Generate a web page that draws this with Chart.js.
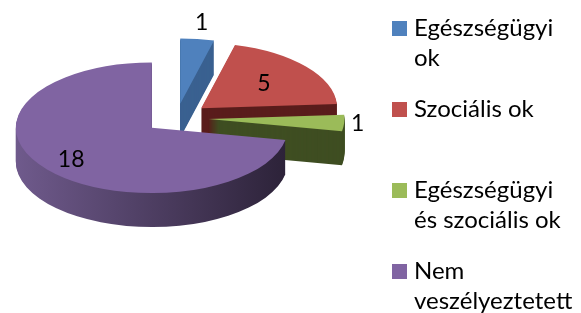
<!DOCTYPE html>
<html>
<head>
<meta charset="utf-8">
<script src="https://cdn.jsdelivr.net/npm/chart.js@4.4.1/dist/chart.umd.min.js"></script>
<style>
  html, body { margin: 0; padding: 0; background: #fff; }
  #wrap { position: relative; width: 581px; height: 313px; overflow: hidden; }
  #pie { position: absolute; left: 0; top: 0; }
  #legend { position: absolute; left: 392px; top: 12px; font-family: Lato, sans-serif; font-size: 24px; line-height: 30px; color: #000; }
  .item { position: relative; height: 81px; padding-left: 22px; white-space: nowrap; }
  .box { position: absolute; left: 0; top: 9px; width: 15px; height: 15px; }
</style>
</head>
<body>
<div id="wrap">
  <canvas id="pie" width="581" height="313"></canvas>
  <div id="legend"></div>
</div>
<script>
const categories = [['Egészségügyi', 'ok'], ['Szociális ok'], ['Egészségügyi', 'és szociális ok'], ['Nem', 'veszélyeztetett']];
const values = [1, 5, 1, 18];
const topColors = ['#4f81bd', '#c0504d', '#9bbb59', '#8064a2'];
const sideColors = ['#3a6190', '#5a1d1c', '#3f4e22', ['#6f5a8c', '#2c2238']];
const explode = [30, 32, 32, 32];
const labelPos = [1.25, 0.6, 1.1, 0.77];

// fake 3d: squash the pie and stack darker copies under it
const tilt = 0.48;
const depth = 34;
const pieY = 118;

function project(ctx, chart, shiftY) {
    const cy = (chart.chartArea.top + chart.chartArea.bottom) / 2;
    ctx.translate(0, pieY + shiftY - tilt * cy);
    ctx.scale(1, tilt);
}

const pie3d = {
    id: 'pie3d',
    beforeDatasetsDraw(chart) {
        const ctx = chart.ctx;
        const arcs = chart.getDatasetMeta(0).data;

        arcs.forEach(function(arc, i) {
            const mid = (arc.startAngle + arc.endAngle) / 2;
            arc.$orig = [arc.x, arc.y];
            arc.x += Math.cos(mid) * explode[i];
            arc.y += Math.sin(mid) * explode[i];
        });

        arcs.forEach(function(arc, i) {
            let fill = sideColors[i];
            if (Array.isArray(fill)) {
                const g = ctx.createLinearGradient(arc.x - arc.outerRadius, 0, arc.x + arc.outerRadius, 0);
                g.addColorStop(0, fill[0]);
                g.addColorStop(1, fill[1]);
                fill = g;
            }
            for (let d = depth; d > 0; d--) {
                ctx.save();
                project(ctx, chart, d);
                ctx.beginPath();
                ctx.moveTo(arc.x, arc.y);
                ctx.arc(arc.x, arc.y, arc.outerRadius, arc.startAngle, arc.endAngle);
                ctx.closePath();
                ctx.fillStyle = fill;
                ctx.fill();
                ctx.restore();
            }
        });

        ctx.save();
        project(ctx, chart, 0);
    },
    afterDatasetsDraw(chart) {
        const ctx = chart.ctx;
        ctx.restore();
        const cy = (chart.chartArea.top + chart.chartArea.bottom) / 2;
        const arcs = chart.getDatasetMeta(0).data;

        ctx.save();
        ctx.font = '23px Lato';
        ctx.fillStyle = '#000';
        ctx.textAlign = 'center';
        ctx.textBaseline = 'middle';
        arcs.forEach(function(arc, i) {
            arc.x = arc.$orig[0];
            arc.y = arc.$orig[1];
            const mid = (arc.startAngle + arc.endAngle) / 2;
            const r = explode[i] + labelPos[i] * arc.outerRadius;
            const x = arc.x + Math.cos(mid) * r;
            const y = pieY + tilt * (arc.y + Math.sin(mid) * r - cy);
            ctx.fillText(String(values[i]), x, y);
        });
        ctx.restore();
    }
};

new Chart(document.getElementById('pie'), {
    type: 'pie',
    data: {
        labels: categories,
        datasets: [{
            data: values,
            backgroundColor: topColors,
            borderWidth: 0,
            radius: 136,
            clip: false
        }]
    },
    options: {
        responsive: false,
        animation: false,
        layout: { padding: { left: 0, right: 228 } },
        plugins: {
            legend: { display: false },
            tooltip: { enabled: false }
        }
    },
    plugins: [pie3d]
});

const legend = document.getElementById('legend');
categories.forEach(function(lines, i) {
    const item = document.createElement('div');
    item.className = 'item';
    item.innerHTML = '<span class="box" style="background:' + topColors[i] + '"></span>' + lines.join('<br>');
    legend.appendChild(item);
});
</script>
</body>
</html>
